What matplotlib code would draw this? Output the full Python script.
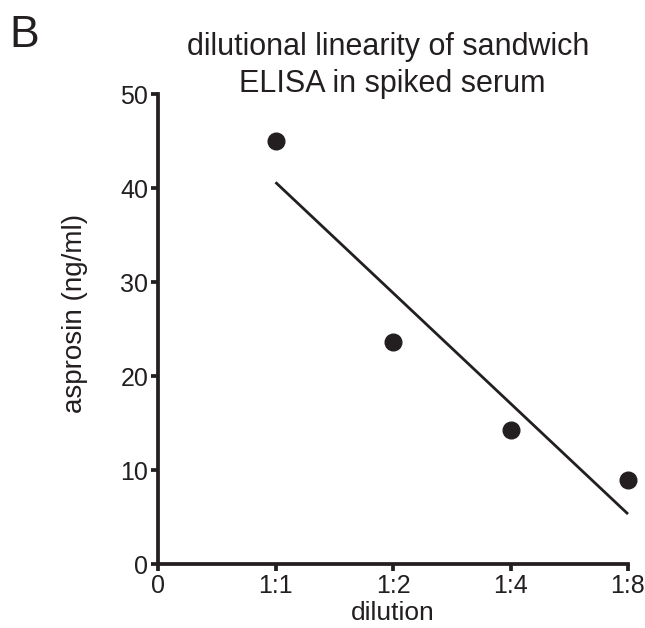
import numpy as np
import matplotlib
matplotlib.use("Agg")
import matplotlib.pyplot as plt

## Data
dilution_pos = [1, 2, 3, 4]
asprosin = [45.0, 23.65, 14.3, 8.9]
tick_pos = [0, 1, 2, 3, 4]
tick_labels = ["0", "1:1", "1:2", "1:4", "1:8"]
y_ticks = [0, 10, 20, 30, 40, 50]

INK = "#231f20"
plt.rcParams["font.family"] = ["Liberation Sans", "DejaVu Sans"]

fig = plt.figure(figsize=(6.45, 6.28), dpi=100)
ax = fig.add_axes([158 / 645, 1 - 564 / 628, 470 / 645, 470 / 628])

# linear fit through the points
slope, intercept = np.polyfit(dilution_pos, asprosin, 1)
x_fit = np.array([dilution_pos[0], dilution_pos[-1]])
ax.plot(x_fit, slope * x_fit + intercept, color=INK, lw=2.0,
        solid_capstyle="butt", clip_on=False)
ax.plot(dilution_pos, asprosin, "o", color=INK, ms=12, clip_on=False)

ax.set_xlim(0, 4)
ax.set_ylim(0, 50)
ax.set_xticks(tick_pos)
ax.set_xticklabels(tick_labels)
ax.set_yticks(y_ticks)
for side in ("top", "right"):
    ax.spines[side].set_visible(False)
for side in ("left", "bottom"):
    ax.spines[side].set_linewidth(2.7)
    ax.spines[side].set_color(INK)
    ax.spines[side].set_capstyle("projecting")
ax.tick_params(direction="out", length=5, width=2.7, color=INK,
               labelsize=18, labelcolor=INK, pad=2)

ax.set_xlabel("dilution", fontsize=19, color=INK)
ax.xaxis.set_label_coords(0.5, -(620 - 564) / 470, transform=ax.transAxes)
ax.xaxis.label.set_va("baseline")
ax.set_ylabel("asprosin (ng/ml)", fontsize=20, color=INK)
ax.yaxis.set_label_coords(-(158 - 75) / 470, (564 - 313) / 470)
ax.yaxis.label.set_va("center")

fig.text(388 / 645, 1 - 55 / 628, "dilutional linearity of sandwich",
         ha="center", va="baseline", fontsize=22, color=INK)
fig.text(392 / 645, 1 - 92 / 628, "ELISA in spiked serum",
         ha="center", va="baseline", fontsize=22, color=INK)
fig.text(9 / 645, 1 - 47 / 628, "B", ha="left", va="baseline", fontsize=32,
         color=INK)

fig.savefig("out.png", dpi=100)
